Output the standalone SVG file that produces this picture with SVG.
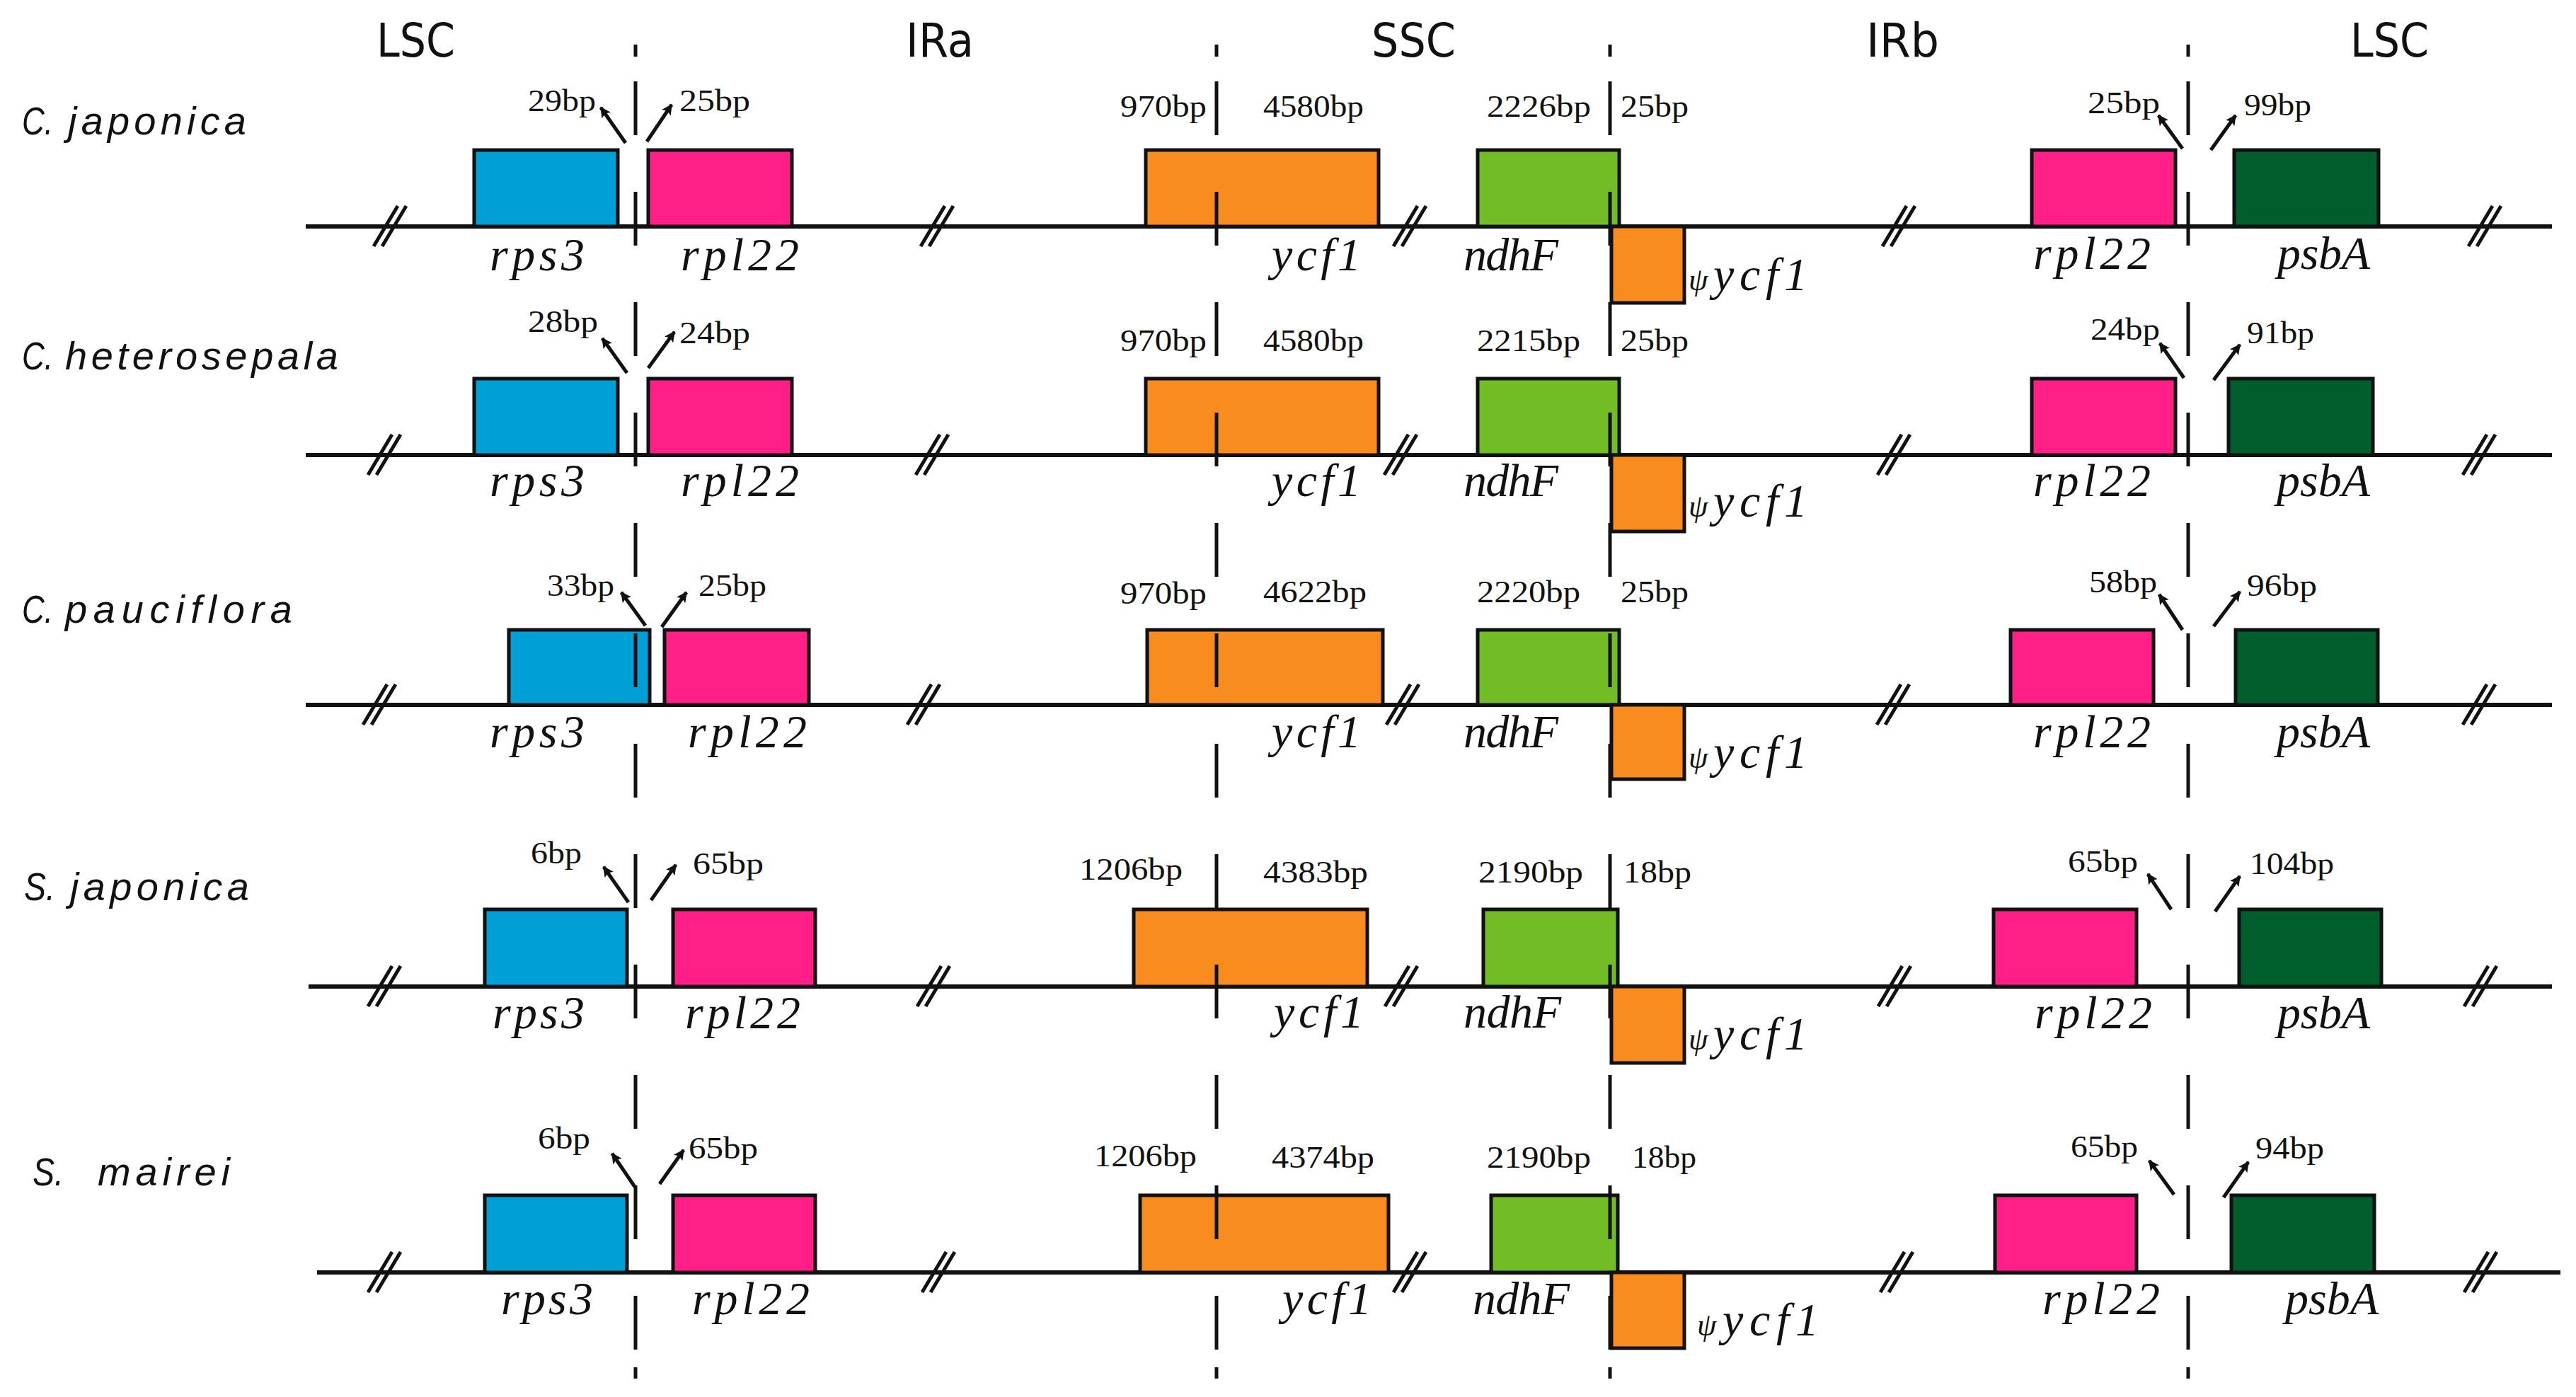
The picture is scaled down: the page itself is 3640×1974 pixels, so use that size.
<svg xmlns="http://www.w3.org/2000/svg" xmlns:xlink="http://www.w3.org/1999/xlink" width="3640" height="1974" viewBox="0 0 3640 1974">
<style>
.bb{stroke:#111;stroke-width:6}
.bx{stroke:#111;stroke-width:5}
.blue{fill:#00a0d6}.pink{fill:#ff1f86}.orange{fill:#f98c1e}.green{fill:#72bd25}.dkgreen{fill:#005e2c}
.dash{stroke:#111;stroke-width:5;fill:none}
.brk line{stroke:#111;stroke-width:5}
.arr{stroke:#111;stroke-width:5;fill:none;marker-end:url(#ah)}
.bp{font-family:"Liberation Serif",serif;font-size:44px;fill:#111}
.gn{font-family:"Liberation Serif",serif;font-style:italic;font-size:66px;fill:#111}
.sp{font-family:"Liberation Sans",sans-serif;font-style:italic;font-size:56px;fill:#111}
.hd{font-family:"DejaVu Sans","Liberation Sans",sans-serif;font-size:66px;fill:#111}
</style>
<defs>
<marker id="ah" viewBox="0 0 10 10" refX="9" refY="5" markerWidth="28" markerHeight="15" markerUnits="userSpaceOnUse" orient="auto"><path d="M0,0 L10,5 L0,10 L2,5 z" fill="#111"/></marker>
<g id="brk" class="brk"><line x1="-23" y1="28" x2="11" y2="-29"/><line x1="-11" y1="28" x2="23" y2="-29"/></g>
</defs>
<rect width="3640" height="1974" fill="#fff"/>

<g id="headers">
<text class="hd" x="532" y="80" textLength="111" lengthAdjust="spacingAndGlyphs">LSC</text>
<text class="hd" x="1280" y="80" textLength="96" lengthAdjust="spacingAndGlyphs">IRa</text>
<text class="hd" x="1938" y="80" textLength="119" lengthAdjust="spacingAndGlyphs">SSC</text>
<text class="hd" x="2637" y="80" textLength="103" lengthAdjust="spacingAndGlyphs">IRb</text>
<text class="hd" x="3321" y="80" textLength="111" lengthAdjust="spacingAndGlyphs">LSC</text>
</g>

<g id="species">
<text class="sp" y="190"><tspan x="31" textLength="44" lengthAdjust="spacingAndGlyphs">C.</tspan><tspan x="96" textLength="252" lengthAdjust="spacing">japonica</tspan></text>
<text class="sp" y="522"><tspan x="31" textLength="44" lengthAdjust="spacingAndGlyphs">C.</tspan><tspan x="92" textLength="386" lengthAdjust="spacing">heterosepala</tspan></text>
<text class="sp" y="880"><tspan x="31" textLength="44" lengthAdjust="spacingAndGlyphs">C.</tspan><tspan x="92" textLength="321" lengthAdjust="spacing">pauciflora</tspan></text>
<text class="sp" y="1272"><tspan x="34" textLength="44" lengthAdjust="spacingAndGlyphs">S.</tspan><tspan x="99" textLength="253" lengthAdjust="spacing">japonica</tspan></text>
<text class="sp" y="1675"><tspan x="46" textLength="44" lengthAdjust="spacingAndGlyphs">S.</tspan><tspan x="138" textLength="187" lengthAdjust="spacing">mairei</tspan></text>
</g>

<g id="backbones">
<line class="bb" x1="432" y1="320" x2="3606" y2="320"/>
<line class="bb" x1="432" y1="643" x2="3606" y2="643"/>
<line class="bb" x1="432" y1="996" x2="3606" y2="996"/>
<line class="bb" x1="436" y1="1394" x2="3606" y2="1394"/>
<line class="bb" x1="448" y1="1798" x2="3618" y2="1798"/>
</g>

<!-- Row 1 -->
<g id="r1-rps3"><rect class="bx blue" x="670" y="212" width="203" height="108"/><text class="gn" x="692" y="382" textLength="134" lengthAdjust="spacing">rps3</text></g>
<g id="r1-rpl22a"><rect class="bx pink" x="916" y="212" width="203" height="108"/><text class="gn" x="962" y="382" textLength="167" lengthAdjust="spacing">rpl22</text></g>
<g id="r1-ycf1"><rect class="bx orange" x="1619" y="212" width="329" height="108"/><text class="gn" x="1797" y="382" textLength="126" lengthAdjust="spacing">ycf1</text></g>
<g id="r1-ndhF"><rect class="bx green" x="2088" y="212" width="200" height="108"/><text class="gn" x="2068" y="382" textLength="134" lengthAdjust="spacing">ndhF</text></g>
<g id="r1-psiycf1"><rect class="bx orange" x="2277" y="320" width="103" height="108"/><text class="gn" x="2386" y="410" textLength="168" lengthAdjust="spacing"><tspan font-size="44">ψ</tspan>ycf1</text></g>
<g id="r1-rpl22b"><rect class="bx pink" x="2871" y="212" width="203" height="108"/><text class="gn" x="2873" y="380" textLength="166" lengthAdjust="spacing">rpl22</text></g>
<g id="r1-psbA"><rect class="bx dkgreen" x="3157" y="212" width="204" height="108"/><text class="gn" x="3218" y="380" textLength="131" lengthAdjust="spacing">psbA</text></g>
<g id="r1-bp">
<text class="bp" x="746" y="157" textLength="96" lengthAdjust="spacingAndGlyphs">29bp</text>
<text class="bp" x="960" y="157" textLength="100" lengthAdjust="spacingAndGlyphs">25bp</text>
<text class="bp" x="1583" y="165" textLength="122" lengthAdjust="spacingAndGlyphs">970bp</text>
<text class="bp" x="1785" y="165" textLength="142" lengthAdjust="spacingAndGlyphs">4580bp</text>
<text class="bp" x="2101" y="165" textLength="147" lengthAdjust="spacingAndGlyphs">2226bp</text>
<text class="bp" x="2290" y="165" textLength="96" lengthAdjust="spacingAndGlyphs">25bp</text>
<text class="bp" x="2950" y="160" textLength="102" lengthAdjust="spacingAndGlyphs">25bp</text>
<text class="bp" x="3171" y="163" textLength="95" lengthAdjust="spacingAndGlyphs">99bp</text>
</g>

<!-- Row 2 -->
<g id="r2-rps3"><rect class="bx blue" x="670" y="535" width="203" height="108"/><text class="gn" x="692" y="701" textLength="134" lengthAdjust="spacing">rps3</text></g>
<g id="r2-rpl22a"><rect class="bx pink" x="916" y="535" width="203" height="108"/><text class="gn" x="962" y="701" textLength="167" lengthAdjust="spacing">rpl22</text></g>
<g id="r2-ycf1"><rect class="bx orange" x="1619" y="535" width="329" height="108"/><text class="gn" x="1797" y="701" textLength="126" lengthAdjust="spacing">ycf1</text></g>
<g id="r2-ndhF"><rect class="bx green" x="2088" y="535" width="200" height="108"/><text class="gn" x="2068" y="701" textLength="134" lengthAdjust="spacing">ndhF</text></g>
<g id="r2-psiycf1"><rect class="bx orange" x="2277" y="643" width="103" height="108"/><text class="gn" x="2386" y="730" textLength="168" lengthAdjust="spacing"><tspan font-size="44">ψ</tspan>ycf1</text></g>
<g id="r2-rpl22b"><rect class="bx pink" x="2871" y="535" width="203" height="108"/><text class="gn" x="2873" y="701" textLength="166" lengthAdjust="spacing">rpl22</text></g>
<g id="r2-psbA"><rect class="bx dkgreen" x="3149" y="535" width="204" height="108"/><text class="gn" x="3217" y="701" textLength="132" lengthAdjust="spacing">psbA</text></g>
<g id="r2-bp">
<text class="bp" x="746" y="469" textLength="99" lengthAdjust="spacingAndGlyphs">28bp</text>
<text class="bp" x="960" y="485" textLength="100" lengthAdjust="spacingAndGlyphs">24bp</text>
<text class="bp" x="1583" y="496" textLength="122" lengthAdjust="spacingAndGlyphs">970bp</text>
<text class="bp" x="1785" y="496" textLength="142" lengthAdjust="spacingAndGlyphs">4580bp</text>
<text class="bp" x="2087" y="496" textLength="146" lengthAdjust="spacingAndGlyphs">2215bp</text>
<text class="bp" x="2290" y="496" textLength="96" lengthAdjust="spacingAndGlyphs">25bp</text>
<text class="bp" x="2954" y="480" textLength="98" lengthAdjust="spacingAndGlyphs">24bp</text>
<text class="bp" x="3175" y="485" textLength="95" lengthAdjust="spacingAndGlyphs">91bp</text>
</g>

<!-- Row 3 -->
<g id="r3-rps3"><rect class="bx blue" x="719" y="890" width="199" height="106"/><text class="gn" x="692" y="1056" textLength="134" lengthAdjust="spacing">rps3</text></g>
<g id="r3-rpl22a"><rect class="bx pink" x="939" y="890" width="204" height="106"/><text class="gn" x="972" y="1056" textLength="168" lengthAdjust="spacing">rpl22</text></g>
<g id="r3-ycf1"><rect class="bx orange" x="1621" y="890" width="333" height="106"/><text class="gn" x="1797" y="1056" textLength="126" lengthAdjust="spacing">ycf1</text></g>
<g id="r3-ndhF"><rect class="bx green" x="2088" y="890" width="200" height="106"/><text class="gn" x="2068" y="1056" textLength="134" lengthAdjust="spacing">ndhF</text></g>
<g id="r3-psiycf1"><rect class="bx orange" x="2277" y="996" width="103" height="105"/><text class="gn" x="2386" y="1085" textLength="168" lengthAdjust="spacing"><tspan font-size="44">ψ</tspan>ycf1</text></g>
<g id="r3-rpl22b"><rect class="bx pink" x="2841" y="890" width="202" height="106"/><text class="gn" x="2873" y="1056" textLength="166" lengthAdjust="spacing">rpl22</text></g>
<g id="r3-psbA"><rect class="bx dkgreen" x="3159" y="890" width="201" height="106"/><text class="gn" x="3217" y="1056" textLength="132" lengthAdjust="spacing">psbA</text></g>
<g id="r3-bp">
<text class="bp" x="773" y="842" textLength="95" lengthAdjust="spacingAndGlyphs">33bp</text>
<text class="bp" x="987" y="842" textLength="96" lengthAdjust="spacingAndGlyphs">25bp</text>
<text class="bp" x="1583" y="853" textLength="122" lengthAdjust="spacingAndGlyphs">970bp</text>
<text class="bp" x="1785" y="851" textLength="146" lengthAdjust="spacingAndGlyphs">4622bp</text>
<text class="bp" x="2087" y="851" textLength="146" lengthAdjust="spacingAndGlyphs">2220bp</text>
<text class="bp" x="2290" y="851" textLength="96" lengthAdjust="spacingAndGlyphs">25bp</text>
<text class="bp" x="2952" y="837" textLength="96" lengthAdjust="spacingAndGlyphs">58bp</text>
<text class="bp" x="3175" y="842" textLength="99" lengthAdjust="spacingAndGlyphs">96bp</text>
</g>

<!-- Row 4 -->
<g id="r4-rps3"><rect class="bx blue" x="685" y="1285" width="201" height="109"/><text class="gn" x="696" y="1453" textLength="130" lengthAdjust="spacing">rps3</text></g>
<g id="r4-rpl22a"><rect class="bx pink" x="951" y="1285" width="201" height="109"/><text class="gn" x="968" y="1453" textLength="163" lengthAdjust="spacing">rpl22</text></g>
<g id="r4-ycf1"><rect class="bx orange" x="1602" y="1285" width="330" height="109"/><text class="gn" x="1800" y="1452" textLength="127" lengthAdjust="spacing">ycf1</text></g>
<g id="r4-ndhF"><rect class="bx green" x="2096" y="1285" width="190" height="109"/><text class="gn" x="2068" y="1452" textLength="138" lengthAdjust="spacing">ndhF</text></g>
<g id="r4-psiycf1"><rect class="bx orange" x="2277" y="1394" width="103" height="108"/><text class="gn" x="2386" y="1483" textLength="168" lengthAdjust="spacing"><tspan font-size="44">ψ</tspan>ycf1</text></g>
<g id="r4-rpl22b"><rect class="bx pink" x="2817" y="1285" width="202" height="109"/><text class="gn" x="2875" y="1453" textLength="166" lengthAdjust="spacing">rpl22</text></g>
<g id="r4-psbA"><rect class="bx dkgreen" x="3164" y="1285" width="201" height="109"/><text class="gn" x="3218" y="1453" textLength="131" lengthAdjust="spacing">psbA</text></g>
<g id="r4-bp">
<text class="bp" x="750" y="1220" textLength="72" lengthAdjust="spacingAndGlyphs">6bp</text>
<text class="bp" x="979" y="1235" textLength="100" lengthAdjust="spacingAndGlyphs">65bp</text>
<text class="bp" x="1525" y="1243" textLength="146" lengthAdjust="spacingAndGlyphs">1206bp</text>
<text class="bp" x="1785" y="1247" textLength="148" lengthAdjust="spacingAndGlyphs">4383bp</text>
<text class="bp" x="2089" y="1247" textLength="148" lengthAdjust="spacingAndGlyphs">2190bp</text>
<text class="bp" x="2294" y="1247" textLength="96" lengthAdjust="spacingAndGlyphs">18bp</text>
<text class="bp" x="2922" y="1232" textLength="99" lengthAdjust="spacingAndGlyphs">65bp</text>
<text class="bp" x="3179" y="1235" textLength="119" lengthAdjust="spacingAndGlyphs">104bp</text>
</g>

<!-- Row 5 -->
<g id="r5-rps3"><rect class="bx blue" x="685" y="1689" width="201" height="109"/><text class="gn" x="708" y="1857" textLength="130" lengthAdjust="spacing">rps3</text></g>
<g id="r5-rpl22a"><rect class="bx pink" x="951" y="1689" width="201" height="109"/><text class="gn" x="978" y="1857" textLength="166" lengthAdjust="spacing">rpl22</text></g>
<g id="r5-ycf1"><rect class="bx orange" x="1611" y="1689" width="351" height="109"/><text class="gn" x="1812" y="1857" textLength="126" lengthAdjust="spacing">ycf1</text></g>
<g id="r5-ndhF"><rect class="bx green" x="2107" y="1689" width="179" height="109"/><text class="gn" x="2081" y="1857" textLength="137" lengthAdjust="spacing">ndhF</text></g>
<g id="r5-psiycf1"><rect class="bx orange" x="2277" y="1798" width="103" height="107"/><text class="gn" x="2398" y="1887" textLength="172" lengthAdjust="spacing"><tspan font-size="44">ψ</tspan>ycf1</text></g>
<g id="r5-rpl22b"><rect class="bx pink" x="2819" y="1689" width="200" height="109"/><text class="gn" x="2886" y="1857" textLength="166" lengthAdjust="spacing">rpl22</text></g>
<g id="r5-psbA"><rect class="bx dkgreen" x="3153" y="1689" width="202" height="109"/><text class="gn" x="3229" y="1857" textLength="132" lengthAdjust="spacing">psbA</text></g>
<g id="r5-bp">
<text class="bp" x="760" y="1623" textLength="74" lengthAdjust="spacingAndGlyphs">6bp</text>
<text class="bp" x="973" y="1637" textLength="98" lengthAdjust="spacingAndGlyphs">65bp</text>
<text class="bp" x="1546" y="1648" textLength="145" lengthAdjust="spacingAndGlyphs">1206bp</text>
<text class="bp" x="1797" y="1650" textLength="145" lengthAdjust="spacingAndGlyphs">4374bp</text>
<text class="bp" x="2101" y="1650" textLength="147" lengthAdjust="spacingAndGlyphs">2190bp</text>
<text class="bp" x="2306" y="1650" textLength="91" lengthAdjust="spacingAndGlyphs">18bp</text>
<text class="bp" x="2926" y="1635" textLength="95" lengthAdjust="spacingAndGlyphs">65bp</text>
<text class="bp" x="3187" y="1637" textLength="97" lengthAdjust="spacingAndGlyphs">94bp</text>
</g>

<g id="boundaries">
<path class="dash" d="M898,63V80M1719,63V80M2275,63V80M3092,63V80M898,1932V1948M1719,1932V1948M2275,1932V1948M3092,1932V1948"/>
<path class="dash" stroke-dasharray="76 80" d="M898,115V1908M1719,115V1908M2275,115V1908M3092,115V1908"/>
</g>

<g id="breaks">
<use xlink:href="#brk" x="551" y="320"/><use xlink:href="#brk" x="1324" y="320"/><use xlink:href="#brk" x="1992" y="320"/><use xlink:href="#brk" x="2683" y="320"/><use xlink:href="#brk" x="3511" y="320"/>
<use xlink:href="#brk" x="543" y="643"/><use xlink:href="#brk" x="1317" y="643"/><use xlink:href="#brk" x="1979" y="643"/><use xlink:href="#brk" x="2676" y="643"/><use xlink:href="#brk" x="3503" y="643"/>
<use xlink:href="#brk" x="536" y="996"/><use xlink:href="#brk" x="1305" y="996"/><use xlink:href="#brk" x="1982" y="996"/><use xlink:href="#brk" x="2675" y="996"/><use xlink:href="#brk" x="3503" y="996"/>
<use xlink:href="#brk" x="543" y="1394"/><use xlink:href="#brk" x="1319" y="1394"/><use xlink:href="#brk" x="1980" y="1394"/><use xlink:href="#brk" x="2677" y="1394"/><use xlink:href="#brk" x="3505" y="1394"/>
<use xlink:href="#brk" x="543" y="1798"/><use xlink:href="#brk" x="1326" y="1798"/><use xlink:href="#brk" x="1992" y="1798"/><use xlink:href="#brk" x="2680" y="1798"/><use xlink:href="#brk" x="3505" y="1798"/>
</g>

<g id="connectors">
<line class="arr" x1="884" y1="202" x2="849" y2="152"/>
<line class="arr" x1="914" y1="200" x2="949" y2="148"/>
<line class="arr" x1="3084" y1="210" x2="3050" y2="163"/>
<line class="arr" x1="3124" y1="212" x2="3159" y2="163"/>
<line class="arr" x1="886" y1="527" x2="851" y2="478"/>
<line class="arr" x1="916" y1="520" x2="953" y2="469"/>
<line class="arr" x1="3086" y1="534" x2="3052" y2="485"/>
<line class="arr" x1="3128" y1="537" x2="3165" y2="487"/>
<line class="arr" x1="912" y1="884" x2="878" y2="837"/>
<line class="arr" x1="935" y1="886" x2="970" y2="837"/>
<line class="arr" x1="3084" y1="890" x2="3051" y2="840"/>
<line class="arr" x1="3128" y1="885" x2="3165" y2="836"/>
<line class="arr" x1="888" y1="1275" x2="853" y2="1225"/>
<line class="arr" x1="920" y1="1272" x2="955" y2="1222"/>
<line class="arr" x1="3068" y1="1285" x2="3035" y2="1235"/>
<line class="arr" x1="3130" y1="1288" x2="3165" y2="1238"/>
<line class="arr" x1="897" y1="1677" x2="865" y2="1630"/>
<line class="arr" x1="932" y1="1673" x2="966" y2="1625"/>
<line class="arr" x1="3072" y1="1688" x2="3037" y2="1640"/>
<line class="arr" x1="3142" y1="1692" x2="3177" y2="1642"/>
</g>
</svg>
